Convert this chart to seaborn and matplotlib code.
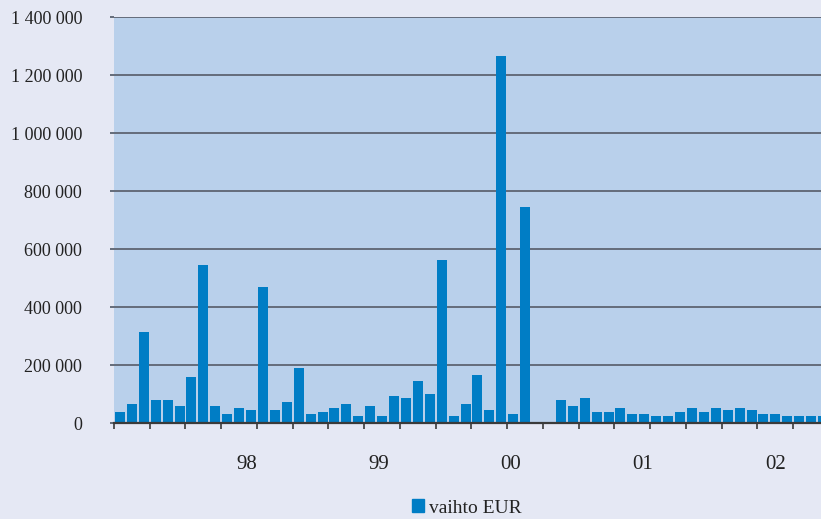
import numpy as np
import pandas as pd
import seaborn as sns
import matplotlib.pyplot as plt
from matplotlib.patches import Patch

# monthly values (EUR), two empty months after the 1 265 000 peak
vaihto = [40000, 67000, 314000, 81000, 81000, 60000, 161000, 547000, 60000, 32000,
          53000, 46000, 470000, 46000, 74000, 189000, 32000, 39000, 53000, 67000,
          25000, 60000, 25000, 95000, 88000, 147000, 102000, 561000, 25000, 67000,
          168000, 46000, 1265000, 32000, 745000, 0, 0, 80000, 59000, 86000,
          39000, 39000, 52000, 32000, 32000, 25000, 25000, 39000, 52000, 39000,
          52000, 45000, 52000, 45000, 32000, 32000, 25000, 25000, 25000, 25000]
year_labels = ["98", "99", "00", "01", "02"]
year_pos = [10.6, 21.7, 32.8, 43.9, 55.0]
y_ticks = [0, 200000, 400000, 600000, 800000, 1000000, 1200000, 1400000]

df = pd.DataFrame({"kk": np.arange(len(vaihto)), "vaihto": vaihto})

fig_bg = "#e5e8f4"
plot_bg = "#b9d0eb"
bar_col = "#007dc5"
grid_col = "#646c7a"

sns.set_style("white")
plt.rcParams["font.family"] = ["Liberation Serif", "DejaVu Serif"]

fig = plt.figure(figsize=(8.21, 5.19), dpi=100, facecolor=fig_bg)
ax = fig.add_axes([114 / 821, 1 - 423.3 / 519, 1 - 114 / 821, (423.3 - 17) / 519])
ax.set_facecolor(plot_bg)

sns.barplot(data=df, x="kk", y="vaihto", color=bar_col, saturation=1,
            width=0.84, linewidth=0, ax=ax, zorder=3)

ax.set_xlim(-0.5, 58.83)
ax.set_ylim(0, 1400000)
ax.set_yticks(y_ticks)
ax.set_yticklabels([f"{v:,}".replace(",", " ") for v in y_ticks])
ax.yaxis.grid(True, color=grid_col, linewidth=1.4, zorder=1)
ax.set_axisbelow(True)

ax.set_xticks(np.arange(-0.5, 59, 3))
ax.set_xticklabels([])
ax.set_xticks(year_pos, minor=True)
ax.set_xticklabels(year_labels, minor=True)
ax.tick_params(axis="x", which="major", direction="out", length=4, width=1.2,
               color="#3a3a3a", bottom=True)
ax.tick_params(axis="x", which="minor", length=0, pad=23, labelsize=15,
               labelcolor="#222222")
ax.tick_params(axis="y", direction="out", length=3, width=1.4, color=grid_col,
               left=True, pad=20, labelsize=13, labelcolor="#222222")

for s in ["top", "right", "left"]:
    ax.spines[s].set_visible(False)
ax.spines["bottom"].set_color("#3a3a3a")
ax.spines["bottom"].set_linewidth(1.6)
ax.spines["bottom"].set_zorder(4)
ax.set_xlabel("")
ax.set_ylabel("")

fig.legend(handles=[Patch(color=bar_col, label="vaihto EUR")], loc="center",
           bbox_to_anchor=(467 / 821, 1 - 508 / 519), frameon=False,
           fontsize=14, handlelength=0.6, handleheight=0.6, handletextpad=0.3,
           labelcolor="#222222")

fig.savefig("out.png", dpi=100, facecolor=fig_bg)
plt.close()
